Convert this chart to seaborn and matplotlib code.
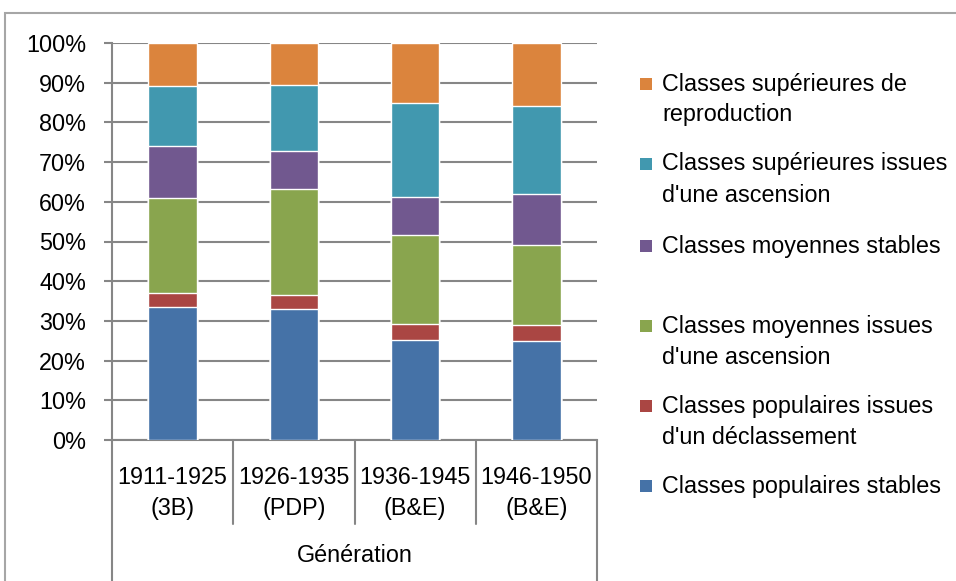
import matplotlib
matplotlib.use("Agg")
import matplotlib.pyplot as plt
import matplotlib.transforms as mtransforms
from matplotlib.patches import Rectangle
from matplotlib.lines import Line2D
import seaborn as sns
import pandas as pd
import numpy as np

# ---- data ----
generations = ["1911-1925", "1926-1935", "1936-1945", "1946-1950"]
sources = ["(3B)", "(PDP)", "(B&E)", "(B&E)"]
axis_title = "Génération"

series_names = [
    "Classes populaires stables",
    "Classes populaires issues\nd'un déclassement",
    "Classes moyennes issues\nd'une ascension",
    "Classes moyennes stables",
    "Classes supérieures issues\nd'une ascension",
    "Classes supérieures de\nreproduction",
]
pop_stables = [33.6, 33.1, 25.2, 25.0]
pop_declass = [3.4, 3.4, 4.0, 4.0]
moy_ascension = [24.0, 26.6, 22.4, 20.0]
moy_stables = [13.1, 9.7, 9.5, 12.9]
sup_ascension = [15.1, 16.5, 23.7, 22.2]
sup_reproduction = [10.8, 10.7, 15.2, 15.9]

colors = ["#4572A7", "#AA4643", "#89A54E", "#71588F", "#4198AF", "#DB843D"]

series_values = [pop_stables, pop_declass, moy_ascension, moy_stables,
                 sup_ascension, sup_reproduction]

# ---- figure ----
W, H = 956, 581
sns.set_style("white")
plt.rcParams["font.family"] = ["Liberation Sans", "DejaVu Sans"]
plt.rcParams["text.color"] = "black"
plt.rcParams["ytick.labelcolor"] = "black"
fig = plt.figure(figsize=(W / 100, H / 100), dpi=100)
FS = 16.8
GRAY = "#868686"

def fx(x):
    return x / W

def fy(y):
    return 1 - y / H

ax_l, ax_r, ax_t, ax_b = 112, 597, 43, 440
ax = fig.add_axes([fx(ax_l), fy(ax_b), fx(ax_r) - fx(ax_l), fy(ax_t) - fy(ax_b)])

# outer chart border
fig.patches.append(Rectangle((fx(5), fy(600)), fx(1000), fy(13) - fy(600),
                             transform=fig.transFigure, fill=False,
                             edgecolor="#a6a6a6", lw=1.5, clip_on=False))

# stacked bars via cumulative sums (drawn top layer first)
vals = np.array(series_values) / 100.0
cum = np.cumsum(vals, axis=0)
cat_labels = [f"{g}\n{s}" for g, s in zip(generations, sources)]
for i in range(len(series_names) - 1, -1, -1):
    df = pd.DataFrame({"cat": cat_labels, "val": cum[i]})
    sns.barplot(data=df, x="cat", y="val", color=colors[i], width=0.4,
                saturation=1, ax=ax, zorder=3)

ax.set_xlim(-0.5, 3.5)
ax.set_ylim(0, 1)
ax.set_yticks(np.arange(0, 1.01, 0.1))
ax.set_yticklabels([f"{int(round(v * 100))}%" for v in np.arange(0, 1.01, 0.1)],
                   fontsize=FS, color="black")
ax.set_xticks([])
ax.set_xlabel("")
ax.set_ylabel("")
ax.grid(axis="y", color=GRAY, lw=1.5, zorder=0)
ax.set_axisbelow(True)
for s in ["top", "right"]:
    ax.spines[s].set_visible(False)
for s in ["left", "bottom"]:
    ax.spines[s].set_color(GRAY)
    ax.spines[s].set_linewidth(1.5)
ax.tick_params(axis="y", length=5.8, width=1.5, color=GRAY, pad=13, left=True)

# category axis (multi-level)
trans = mtransforms.blended_transform_factory(ax.transData, ax.transAxes)
ph = ax_b - ax_t

def ay(ypx):
    return (ax_b - ypx) / ph

for i, (g, s) in enumerate(zip(generations, sources)):
    ax.text(i, ay(477), g, transform=trans, ha="center", va="center",
            fontsize=FS, color="black", clip_on=False)
    ax.text(i, ay(508), s, transform=trans, ha="center", va="center",
            fontsize=FS, color="black", clip_on=False)
for xb in [0.5, 1.5, 2.5]:
    ax.add_line(Line2D([xb, xb], [0, ay(524)], transform=trans, color=GRAY,
                       lw=1.5, clip_on=False))
for xb in [-0.5, 3.5]:
    ax.add_line(Line2D([xb, xb], [0, ay(590)], transform=trans, color=GRAY,
                       lw=1.5, clip_on=False))
ax.text(1.5, ay(556), axis_title, transform=trans, ha="center", va="center",
        fontsize=FS, color="black", clip_on=False)

# legend (top to bottom, reversed order)
first_line_y = [84, 164, 246, 326, 406, 486]
for k, idx in enumerate(range(len(series_names) - 1, -1, -1)):
    y = first_line_y[k]
    fig.patches.append(Rectangle((fx(640), fy(y + 6)), fx(12), fy(y - 6) - fy(y + 6),
                                 transform=fig.transFigure, facecolor=colors[idx],
                                 edgecolor="none"))
    lines = series_names[idx].split("\n")
    for j, line in enumerate(lines):
        fig.text(fx(662), fy(y + j * 31), line, ha="left", va="center",
                 fontsize=FS, color="black")

fig.savefig("out.png", dpi=100)
